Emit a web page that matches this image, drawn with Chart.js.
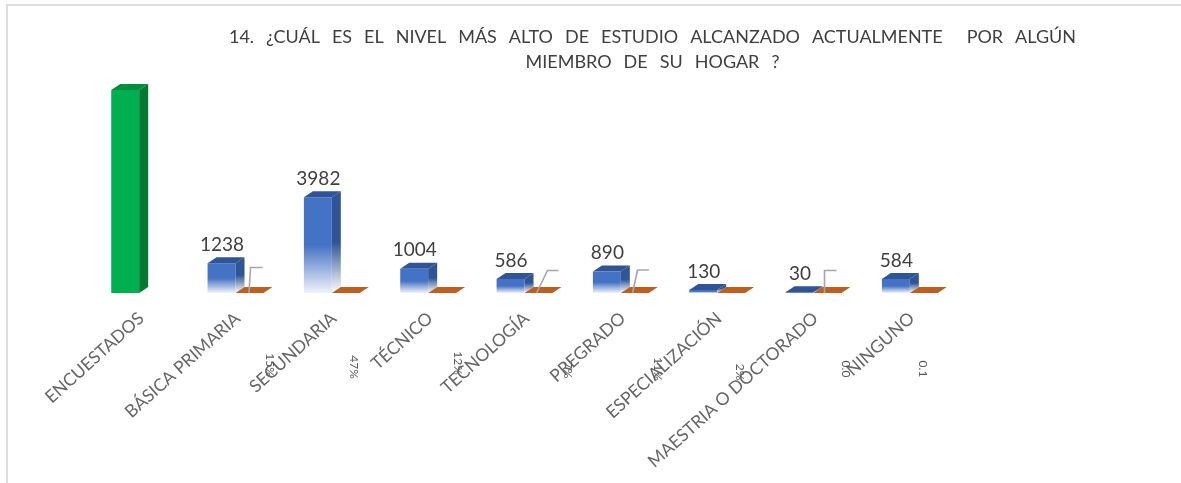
<!DOCTYPE html>
<html lang="es"><head><meta charset="utf-8">
<style>
html,body{margin:0;padding:0;background:#fff;overflow:hidden}
#frame{position:absolute;left:6px;top:4px;width:1175px;height:479px;border-left:2px solid #dedede;border-top:2px solid #dedede;box-sizing:border-box}
#wrap{position:absolute;left:0;top:0;width:1181px;height:483px}
</style>
<script src="https://cdn.jsdelivr.net/npm/chart.js@4"></script>
</head><body>
<div id="frame"></div>
<div id="wrap"><canvas id="c" width="1181" height="483"></canvas></div>
<script>
const titleLines = ['14. ¿CUÁL ES EL NIVEL MÁS ALTO DE ESTUDIO ALCANZADO ACTUALMENTE  POR ALGÚN','MIEMBRO DE SU HOGAR ?'];
const categories = ['ENCUESTADOS','BÁSICA PRIMARIA','SECUNDARIA','TÉCNICO','TECNOLOGÍA','PREGRADO','ESPECIALIZACIÓN','MAESTRIA O DOCTORADO','NINGUNO'];
const counts = [8444,1238,3982,1004,586,890,130,30,584];
const shares = [0,0.15,0.47,0.12,0.07,0.11,0.02,0.004,0.07];
const shareLabels = ['','15%','47%','12%','7%','11%','2%','0.0','0.1'];
// layout of the rotated share labels, relative to tick x / baseline
const shareLabelDx = [0,34.5,22,30,43,37,23,32,13];
const shareLabelDy = [0,72,74,70,77,76,79,76,76];
// leader lines [index, baseDx, elbowDx, endDx, rise]
const leaders = [[1,13.5,15,27,25.5],[4,12,23,34,22.5],[5,11.7,16.7,28,23],[7,11,11,23,22.5]];
const DX = 9, DY = 6;

function blueFront(ctx, top, base){
  const g = ctx.createLinearGradient(0, top, 0, base);
  g.addColorStop(0, '#4472C4'); g.addColorStop(0.5, '#4472C4'); g.addColorStop(1, '#F0F3FA');
  return g;
}
function poly(ctx, pts, fill){
  ctx.beginPath(); pts.forEach((p,i)=> i?ctx.lineTo(p[0],p[1]):ctx.moveTo(p[0],p[1])); ctx.closePath();
  ctx.fillStyle = fill; ctx.fill();
}
const titleLayout = {
  id:'titleLayout',
  afterLayout(chart){
    const tb = chart.titleBlock;
    tb.left = 229; tb.right = 1076;
    if(!tb._patched){
      const d = tb.draw;
      tb.draw = function(){ const x=this.ctx; x.save(); x.wordSpacing='7.4px'; d.call(this); x.restore(); };
      tb._patched = true;
    }
  }
};
const bars3d = {
  id:'bars3d',
  afterDatasetsDraw(chart){
    const ctx = chart.ctx, a = chart.getDatasetMeta(0).data, b = chart.getDatasetMeta(1).data;
    const xs = chart.scales.x, base = chart.scales.y.getPixelForValue(0);
    ctx.save();
    a.forEach((el,i)=>{
      const w = el.width, l = el.x-w/2, r = el.x+w/2, t = el.y;
      let side;
      if(i===0){ side='#007A33'; }
      else{
        side = ctx.createLinearGradient(0,t-DY,0,base);
        side.addColorStop(0,'#2F5597'); side.addColorStop(0.5,'#2F5597'); side.addColorStop(1,'#FFFFFF');
      }
      poly(ctx,[[r,t],[r+DX,t-DY],[r+DX,base-DY],[r,base]],side);
      poly(ctx,[[l,t],[l+DX,t-DY],[r+DX,t-DY],[r,t]],i===0?'#008F3E':'#2F5597');
    });
    b.forEach((el,i)=>{
      if(i===0) return;
      const w = el.width, l = el.x-w/2, r = el.x+w/2;
      poly(ctx,[[l,base],[l+DX,base-DY],[r+DX,base-DY],[r,base]],'#BF5F1E');
    });
    ctx.strokeStyle='#A6A6A6'; ctx.lineWidth=1.6;
    leaders.forEach(([i,d0,d1,d2,h])=>{
      const x = xs.getPixelForTick(i);
      ctx.beginPath(); ctx.moveTo(x+d0,base); ctx.lineTo(x+d1,base-h); ctx.lineTo(x+d2,base-h); ctx.stroke();
    });
    ctx.textAlign='center'; ctx.textBaseline='middle';
    ctx.fillStyle='#404040'; ctx.font='19px Lato, Carlito, sans-serif';
    a.forEach((el,i)=>{ if(i>0) ctx.fillText(String(counts[i]), el.x+0.5, el.y-18.5); });
    ctx.fillStyle='#595959'; ctx.font='12px Lato, Carlito, sans-serif';
    shareLabels.forEach((s,i)=>{
      if(!s) return;
      ctx.save();
      ctx.translate(xs.getPixelForTick(i)+shareLabelDx[i], base+shareLabelDy[i]);
      ctx.rotate(Math.PI/2); ctx.fillText(s,0,0); ctx.restore();
    });
    ctx.restore();
  }
};
new Chart(document.getElementById('c'),{
  type:'bar',
  data:{labels:categories,datasets:[
    {label:'Cantidad',data:counts,
     backgroundColor(c){
       if(c.dataIndex===0) return '#00B050';
       const ch=c.chart, ys=ch.scales.y;
       if(!ch.chartArea||!ys) return '#4472C4';
       return blueFront(ch.ctx, ys.getPixelForValue(c.raw), ys.getPixelForValue(0));
     }},
    {label:'Porcentaje',data:shares,backgroundColor:'#BF5F1E'}
  ]},
  options:{
    responsive:false,animation:false,
    layout:{padding:{left:91,right:223,top:0,bottom:0}},
    datasets:{bar:{barPercentage:1,categoryPercentage:0.58}},
    plugins:{
      legend:{display:false},tooltip:{enabled:false},
      title:{display:true,text:titleLines,color:'#404040',
        font:{family:'Lato, Carlito, sans-serif',size:18,lineHeight:1.39,weight:'normal'},
        padding:{top:25,bottom:0}}
    },
    scales:{
      x:{offset:true,grid:{display:false},border:{display:false},
        ticks:{minRotation:42,maxRotation:42,autoSkip:false,color:'#666666',
          font:{family:'Lato, Carlito, sans-serif',size:17.5},padding:7,labelOffset:2},
        afterFit(s){ s.height=190; s.paddingLeft=0; s.paddingRight=0; }},
      y:{display:false,min:0,max:9068}
    }
  },
  plugins:[titleLayout,bars3d]
});
</script>
</body></html>
